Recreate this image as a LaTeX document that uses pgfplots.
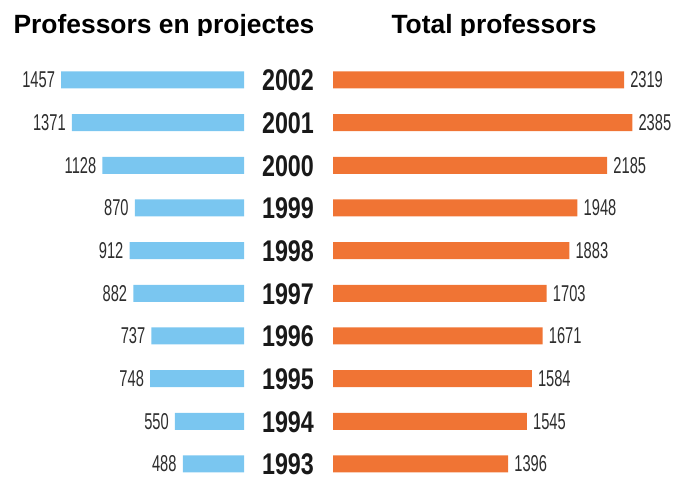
\documentclass[border=0pt]{standalone}
\usepackage{pgfplots}
\pgfplotsset{compat=1.18}
\usepackage{fontspec}
\setmainfont{Liberation Sans}
\newfontfamily\numfont[FakeStretch=0.64]{Liberation Sans}
\newfontfamily\yearfont[FakeStretch=0.78]{Liberation Sans}
\definecolor{barblue}{RGB}{122,198,240}
\definecolor{barorange}{RGB}{240,116,52}
\definecolor{numgray}{RGB}{45,45,45}
\pgfplotstableread{
year left right
1993 488 1396
1994 550 1545
1995 748 1584
1996 737 1671
1997 882 1703
1998 912 1883
1999 870 1948
2000 1128 2185
2001 1371 2385
2002 1457 2319
}\datatable
\begin{document}
\begin{tikzpicture}[x=1bp,y=1bp]
\path[use as bounding box] (0,0) rectangle (675,477);
\pgfplotsset{
  common/.style={
    scale only axis, clip=false,
    axis line style={draw=none},
    xtick=\empty,
    major tick length=0pt,
    height=420bp,
    ymin=1992.695, ymax=2002.538,
    xbar, bar width=17bp,
    bar shift=0pt,
    nodes near coords,
    point meta=explicit symbolic,
  }
}
% left axis
\begin{axis}[common,
  at={(0bp,0bp)}, anchor=south west,
  width=244bp,
  xmin=0, xmax=1944, x dir=reverse,
  ytick=\empty,
  nodes near coords style={anchor=east, xshift=-6bp, font=\numfont\fontsize{23}{23}\selectfont, text=numgray, inner sep=0pt},
]
\addplot[draw=none, fill=barblue] table[x=left, y=year, meta=left] {\datatable};
\end{axis}
% right axis
\begin{axis}[common,
  at={(333bp,0bp)}, anchor=south west,
  width=342bp,
  xmin=0, xmax=2725,
  nodes near coords style={anchor=west, xshift=6bp, font=\numfont\fontsize{23}{23}\selectfont, text=numgray, inner sep=0pt},
  ytick={1993,...,2002},
  yticklabels={1993,1994,1995,1996,1997,1998,1999,2000,2001,2002},
  yticklabel style={anchor=center, xshift=-45bp, yshift=-0.5bp, inner sep=0pt,
    font=\yearfont\bfseries\fontsize{30}{30}\selectfont, text=black!90},
]
\addplot[draw=none, fill=barorange] table[x=right, y=year, meta=right] {\datatable};
\end{axis}
\begin{scope}
\clip (0,441) rectangle (675,477);
\node[anchor=base, inner sep=0pt, font=\bfseries\fontsize{26.5}{26.5}\selectfont] at (164,443) {Professors en projectes};
\node[anchor=base, inner sep=0pt, font=\bfseries\fontsize{26.5}{26.5}\selectfont] at (494,443) {Total professors};
\end{scope}
\end{tikzpicture}
\end{document}
